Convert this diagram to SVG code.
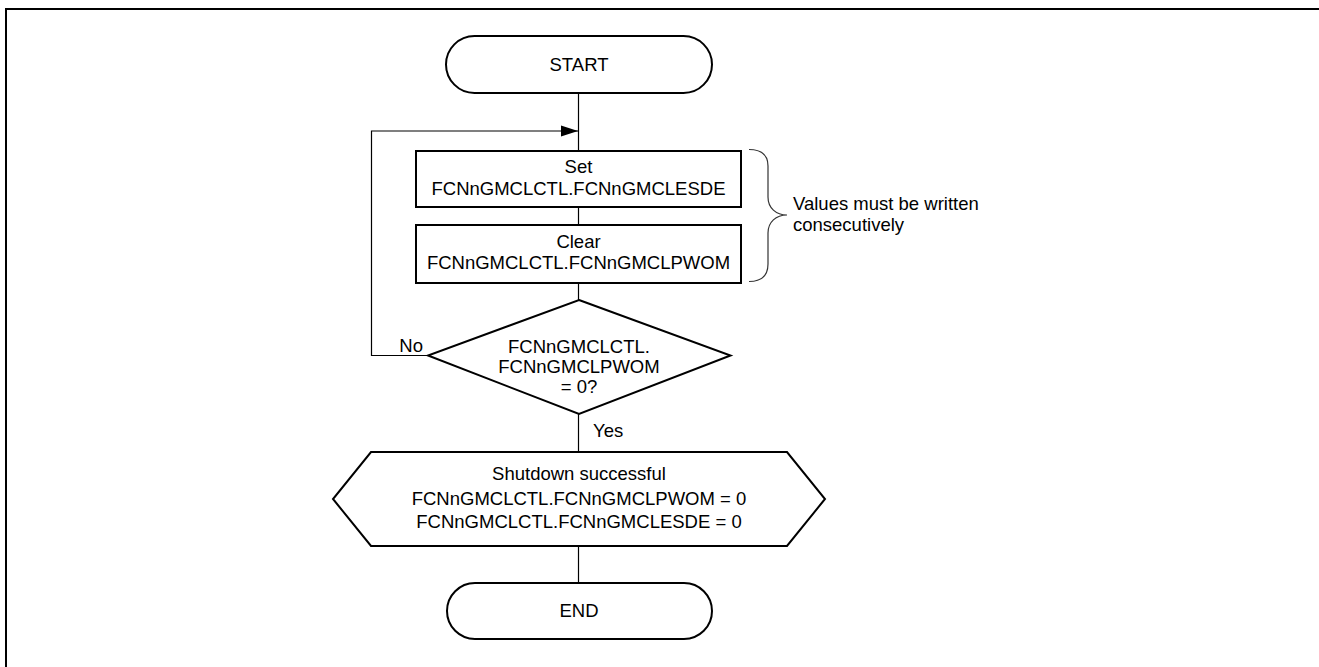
<svg xmlns="http://www.w3.org/2000/svg" width="1319" height="667" viewBox="0 0 1319 667">
<style>
.shape{fill:#fff;stroke:#000;stroke-width:2}
.conn{fill:none;stroke:#000;stroke-width:1.2}
.txt{font-family:"Liberation Sans",Arial,sans-serif;font-size:18.5px;fill:#000}
.mid{text-anchor:middle}
</style>
<defs>
<marker id="arr" markerWidth="17" markerHeight="12" refX="17" refY="6" orient="auto" markerUnits="userSpaceOnUse">
<path d="M0,0.5 L17,6 L0,11.5 Z" fill="#000"/>
</marker>
</defs>
<rect width="1319" height="667" fill="#fff"/>
<path d="M6,667 V9 H1319" fill="none" stroke="#000" stroke-width="2"/>
<g id="connectors">
<line class="conn" x1="578.5" y1="93" x2="578.5" y2="151"/>
<line class="conn" x1="578.5" y1="207" x2="578.5" y2="225"/>
<line class="conn" x1="578.5" y1="283" x2="578.5" y2="300"/>
<line class="conn" x1="578.5" y1="414" x2="578.5" y2="452"/>
<line class="conn" x1="578.5" y1="546" x2="578.5" y2="583"/>
<path class="conn" d="M428,355.5 H371.5 V131 H578" marker-end="url(#arr)"/>
<text class="txt" x="423" y="352" text-anchor="end">No</text>
<text class="txt" x="593" y="437">Yes</text>
</g>
<g id="start">
<rect class="shape" x="446" y="36" width="266" height="57" rx="28.5" ry="28.5"/>
<text class="txt mid" x="579" y="71">START</text>
</g>
<g id="set">
<rect class="shape" x="416" y="151" width="325" height="56"/>
<text class="txt mid" x="578.5" y="173">Set</text>
<text class="txt mid" x="578.5" y="195">FCNnGMCLCTL.FCNnGMCLESDE</text>
</g>
<g id="clear">
<rect class="shape" x="416" y="225" width="325" height="58"/>
<text class="txt mid" x="578.5" y="248">Clear</text>
<text class="txt mid" x="578.5" y="269">FCNnGMCLCTL.FCNnGMCLPWOM</text>
</g>
<g id="note">
<path d="M749,149.5 C762,149.5 768,155 768,166 V197 C768,208 776,215 787,215 C776,215 768,222 768,233 V264 C768,275 762,281.5 749,281.5" fill="none" stroke="#333" stroke-width="1.2"/>
<text class="txt" x="793" y="210">Values must be written</text>
<text class="txt" x="793" y="230.5">consecutively</text>
</g>
<g id="decision">
<polygon class="shape" points="579,300 730.5,355.5 579,414 428,355.5"/>
<text class="txt mid" x="579" y="352.5">FCNnGMCLCTL.</text>
<text class="txt mid" x="579" y="373">FCNnGMCLPWOM</text>
<text class="txt mid" x="579" y="393">= 0?</text>
</g>
<g id="result">
<polygon class="shape" points="371,452 787,452 825,499 787,546 371,546 333,499"/>
<text class="txt mid" x="579" y="480">Shutdown successful</text>
<text class="txt mid" x="579" y="504.5">FCNnGMCLCTL.FCNnGMCLPWOM = 0</text>
<text class="txt mid" x="579" y="528">FCNnGMCLCTL.FCNnGMCLESDE = 0</text>
</g>
<g id="end">
<rect class="shape" x="447" y="583" width="265" height="56" rx="28" ry="28"/>
<text class="txt mid" x="579" y="617">END</text>
</g>
</svg>
